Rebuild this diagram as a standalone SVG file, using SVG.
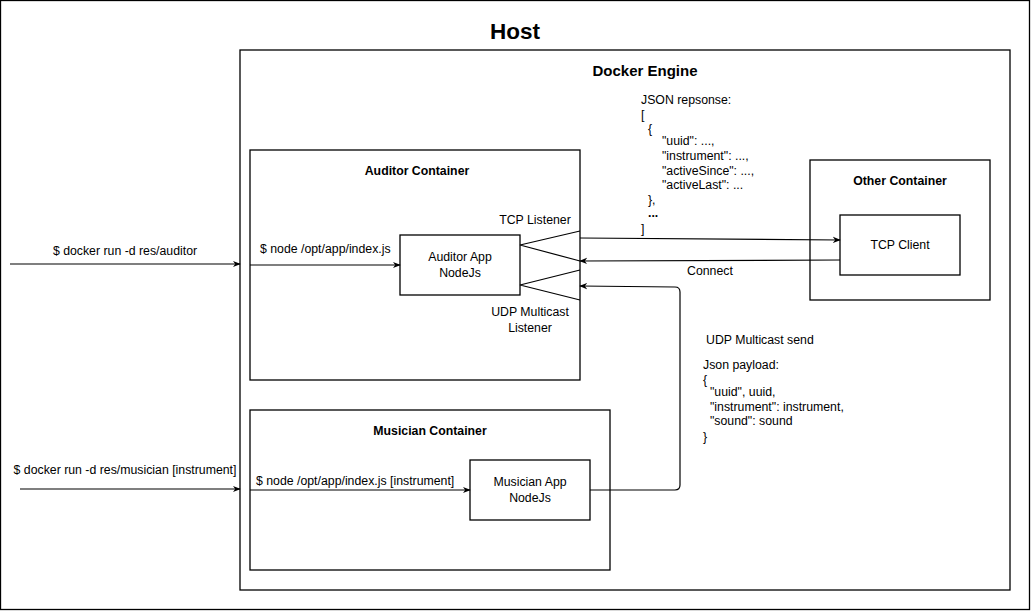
<svg xmlns="http://www.w3.org/2000/svg" width="1031" height="611" viewBox="0 0 1031 611">
<defs>
<marker id="arr" viewBox="0 0 10 10" refX="9" refY="5" markerWidth="8" markerHeight="8" markerUnits="userSpaceOnUse" orient="auto">
<path d="M0,1 L10,5 L0,9 L3,5 Z" fill="#000"/>
</marker>
</defs>
<style>
.box{fill:#fff;stroke:#000;stroke-width:1.3}
.ln{fill:none;stroke:#000;stroke-width:1.2}
text{font-family:"Liberation Sans",Arial,sans-serif;font-size:12.3px;fill:#000}
.b{font-weight:bold}
.c{text-anchor:middle}
</style>
<rect width="1031" height="611" fill="#fff"/>
<g id="host">
<rect class="box" x="0.5" y="0.5" width="1029" height="609"/>
<text class="b c" x="515" y="39" style="font-size:22.5px">Host</text>
</g>
<g id="docker-engine">
<rect class="box" x="240" y="50" width="770" height="540"/>
<text class="b c" x="645" y="76" style="font-size:15px">Docker Engine</text>
</g>
<g id="auditor-container">
<rect class="box" x="250" y="150" width="330" height="230"/>
<text class="b c" x="417" y="175">Auditor Container</text>
</g>
<g id="musician-container">
<rect class="box" x="250" y="410" width="360" height="160"/>
<text class="b c" x="430" y="435">Musician Container</text>
</g>
<g id="other-container">
<rect class="box" x="810" y="160" width="180" height="140"/>
<text class="b c" x="900" y="185">Other Container</text>
</g>
<g id="tcp-client">
<rect class="box" x="840" y="215" width="120" height="60"/>
<text class="c" x="900" y="249">TCP Client</text>
</g>
<g id="auditor-app">
<rect class="box" x="400" y="235" width="120" height="60"/>
<text class="c" x="460" y="261">Auditor App</text>
<text class="c" x="460" y="277">NodeJs</text>
</g>
<g id="musician-app">
<rect class="box" x="470" y="460" width="120" height="60"/>
<text class="c" x="530" y="486">Musician App</text>
<text class="c" x="530" y="502">NodeJs</text>
</g>
<g id="tcp-listener">
<polyline class="ln" points="580,231 520,245 580,261"/>
<text class="c" x="535" y="224">TCP Listener</text>
</g>
<g id="udp-listener">
<polyline class="ln" points="580,270 520,285 580,300"/>
<text class="c" x="530" y="316">UDP Multicast</text>
<text class="c" x="530" y="332">Listener</text>
</g>
<g id="connectors">
<line class="ln" x1="10" y1="264" x2="240" y2="264" marker-end="url(#arr)"/>
<line class="ln" x1="20" y1="489" x2="240" y2="489" marker-end="url(#arr)"/>
<line class="ln" x1="250" y1="265" x2="400" y2="265" marker-end="url(#arr)"/>
<line class="ln" x1="250" y1="490" x2="470" y2="490" marker-end="url(#arr)"/>
<line class="ln" x1="580" y1="238" x2="840" y2="240" marker-end="url(#arr)"/>
<line class="ln" x1="840" y1="260" x2="580" y2="261" marker-end="url(#arr)"/>
<path class="ln" d="M590,490 L675,490 Q680,490 680,485 L680,292 Q680,287 675,287 L580,286" marker-end="url(#arr)"/>
</g>
<g id="labels">
<text class="c" x="125" y="255">$ docker run -d res/auditor</text>
<text class="c" x="125" y="474">$ docker run -d res/musician [instrument]</text>
<text x="260" y="253">$ node /opt/app/index.js</text>
<text x="256" y="485">$ node /opt/app/index.js [instrument]</text>
<text x="687" y="275">Connect</text>
<text x="641" y="104">JSON repsonse:</text>
<text x="641" y="119">[</text>
<text x="648" y="133">{</text>
<text x="662" y="145">"uuid": ...,</text>
<text x="662" y="160">"instrument": ...,</text>
<text x="662" y="175">"activeSince": ...,</text>
<text x="662" y="189">"activeLast": ...</text>
<text x="648" y="204">},</text>
<text class="b" x="648" y="217">...</text>
<text x="641" y="233">]</text>
<text x="706" y="344">UDP Multicast send</text>
<text x="703" y="369">Json payload:</text>
<text x="703" y="384">{</text>
<text x="710" y="396">"uuid", uuid,</text>
<text x="710" y="411">"instrument": instrument,</text>
<text x="710" y="425">"sound": sound</text>
<text x="703" y="441">}</text>
</g>
</svg>
